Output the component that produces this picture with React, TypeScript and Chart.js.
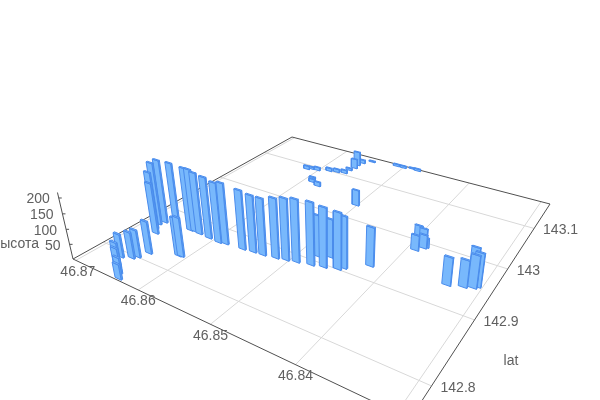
import React, { useEffect, useRef } from "react";
import { Chart, registerables } from "chart.js";
Chart.register(...registerables);

const lonValues = [46.8651,46.8643,46.8641,46.8633,46.8664,46.8652,46.8648,46.8643,46.8669,46.8678,46.8682,46.8679,46.8671,46.8611,46.8608,46.8639,46.8633,46.8624,46.8608,46.8592,46.8583,46.8559,46.8545,46.8532,46.8516,46.8504,46.8492,46.8475,46.8479,46.8461,46.8466,46.8446,46.8442,46.8419,46.8502,46.8617,46.8611,46.8602,46.8586,46.8575,46.8564,46.8563,46.856,46.8562,46.8559,46.8548,46.8511,46.85,46.8487,46.8478,46.8592,46.8587,46.8574,46.8397,46.8391,46.8391,46.8385,46.8384,46.8334,46.8318,46.8309,46.8306,46.8318];
const latValues = [142.775,142.769,142.768,142.761,142.79,142.795,142.8,142.812,142.846,142.854,142.863,142.87,142.881,142.826,142.827,142.873,142.874,142.873,142.872,142.871,142.873,142.875,142.877,142.878,142.881,142.884,142.887,142.891,142.909,142.895,142.915,142.9,142.905,142.924,143.033,143.087,143.091,143.092,143.099,143.102,143.105,143.117,143.127,143.138,143.148,143.159,143.166,143.166,143.17,143.168,143.065,143.057,143.051,143.001,143.002,142.979,142.988,142.991,142.937,142.943,142.947,142.951,142.974];
const heightValues = [83,80,53,50,78,88,92,109,174,195,214,218,202,128,131,215,214,210,208,203,206,198,190,189,198,203,206,205,138,195,128,185,170,129,57,13,8,12,12,12,12,8,37,54,13,4,8,8,4,8,8,12,16,50,43,52,46,32,91,88,106,110,83];
const lonTicks = [46.87, 46.86, 46.85, 46.84, 46.83];
const lonTickLabels = ["46.87", "46.86", "46.85", "46.84"];
const latTicks = [142.8, 142.9, 143, 143.1];
const latTickLabels = ["142.8", "142.9", "143", "143.1"];
const heightTicks = [50, 100, 150, 200];
const heightTitle = "высота";
const latTitle = "lat";

const LON_MAX = 46.8705, LON_SPAN = 0.041667, LAT_MIN = 142.759, LAT_SPAN = 0.4132, Z_TOP = 217;
const LON_MIN = LON_MAX - LON_SPAN, LAT_MAX = LAT_MIN + LAT_SPAN;
const BAR_LON = 0.00048, BAR_LAT = 0.002;
const [x0, y0, x1, y1, x2, y2, x3, y3] = [73, 259, 410, 419, 550, 204, 292, 137];
const dx1 = x1 - x2, dx2 = x3 - x2, sx = x0 - x1 + x2 - x3, dy1 = y1 - y2, dy2 = y3 - y2, sy = y0 - y1 + y2 - y3;
const det = dx1 * dy2 - dx2 * dy1;
const g = (sx * dy2 - dx2 * sy) / det, h = (dx1 * sy - sx * dy1) / det;
const a = x1 - x0 + g * x1, b = x3 - x0 + h * x3, d = y1 - y0 + g * y1, e = y3 - y0 + h * y3;
const K = -2.57e-4, VX = 336, VY = 1385;

function depth(lon: number, lat: number) {
  const s = (LON_MAX - lon) / LON_SPAN, t = (lat - LAT_MIN) / LAT_SPAN;
  return g * s + h * t + 1;
}
function project(lon: number, lat: number, z = 0) {
  const s = (LON_MAX - lon) / LON_SPAN, t = (lat - LAT_MIN) / LAT_SPAN;
  const w = depth(lon, lat) + z * K;
  return { x: (a * s + b * t + x0 + z * K * VX) / w, y: (d * s + e * t + y0 + z * K * VY) / w };
}

const lineSet = (data: { x: number; y: number }[], color: string, order: number, width = 1) => ({
  type: "scatter" as const, data, showLine: true, borderColor: color, borderWidth: width,
  pointRadius: 0, tension: 0, fill: false, order, clip: false,
});
const polySet = (data: { x: number; y: number }[], color: string, order: number) => ({
  type: "scatter" as const, data: [...data, data[0]], showLine: true, borderColor: "#4a8cec", borderWidth: 1,
  backgroundColor: color, pointRadius: 0, tension: 0, fill: "shape", order, clip: false,
});

function buildDatasets() {
  const sets: any[] = [];
  let order = 100000;
  for (const lat of latTicks) sets.push(lineSet([project(LON_MAX, lat), project(LON_MIN, lat)], "#d8d8d8", order--));
  for (const lon of lonTicks) sets.push(lineSet([project(lon, LAT_MIN), project(lon, LAT_MAX)], "#d8d8d8", order--));
  const edge = "#505050";
  sets.push(lineSet([project(LON_MAX, LAT_MIN), project(LON_MAX, LAT_MAX), project(LON_MIN, LAT_MAX), project(LON_MIN, LAT_MIN), project(LON_MAX, LAT_MIN)], edge, order--));
  sets.push(lineSet([project(LON_MAX, LAT_MIN), project(LON_MAX, LAT_MIN, Z_TOP)], edge, order--));
  for (const z of heightTicks) {
    const p = project(LON_MAX, LAT_MIN, z);
    sets.push(lineSet([p, { x: p.x + 3, y: p.y }], edge, order--));
  }
  const idx = lonValues.map((_, i) => i).sort((i, j) => depth(lonValues[j], latValues[j]) - depth(lonValues[i], latValues[i]));
  for (const i of idx) {
    const lo = lonValues[i] - BAR_LON, hi = lonValues[i] + BAR_LON, la = latValues[i], lb = la + BAR_LAT, z = heightValues[i];
    sets.push(polySet([project(lo, la), project(lo, lb), project(lo, lb, z), project(lo, la, z)], "#5aa0f4", order--));
    sets.push(polySet([project(hi, la), project(lo, la), project(lo, la, z), project(hi, la, z)], "#78b8fc", order--));
    sets.push(polySet([project(hi, la, z), project(lo, la, z), project(lo, lb, z), project(hi, lb, z)], "#82bdfd", order--));
  }
  return sets;
}

const labelPlugin = {
  id: "sceneLabels",
  afterDraw(chart: any) {
    const { ctx, scales } = chart;
    const put = (text: string, x: number, y: number, align: CanvasTextAlign) => {
      ctx.textAlign = align;
      ctx.fillText(text, scales.x.getPixelForValue(x), scales.y.getPixelForValue(y + 1.5));
    };
    ctx.save();
    ctx.font = "14px 'Liberation Sans', Arial, sans-serif";
    ctx.fillStyle = "#606060";
    ctx.textBaseline = "middle";
    lonTickLabels.forEach((label, i) => {
      const p = project(lonTicks[i], LAT_MIN);
      put(label, p.x + (i === 0 ? 2 : 0), p.y + 10, "center");
    });
    latTickLabels.forEach((label, i) => {
      const p = project(LON_MIN, latTicks[i]);
      put(label, p.x + 9, p.y + 0.5, "left");
    });
    heightTicks.forEach((z) => {
      const p = project(LON_MAX, LAT_MIN, z);
      put(String(z), p.x - 9, p.y, "right");
    });
    put(heightTitle, 39, 243, "right");
    put(latTitle, 511, 360, "center");
    ctx.restore();
  },
};

export default function App() {
  const ref = useRef<HTMLCanvasElement>(null);
  useEffect(() => {
    const chart = new Chart(ref.current!, {
      type: "scatter",
      data: { datasets: buildDatasets() },
      options: {
        animation: false,
        responsive: false,
        devicePixelRatio: 1,
        layout: { padding: 0 },
        plugins: { legend: { display: false }, tooltip: { enabled: false }, title: { display: false } },
        scales: {
          x: { type: "linear", min: 0, max: 600, display: false },
          y: { type: "linear", min: 0, max: 400, reverse: true, display: false },
        },
      },
      plugins: [labelPlugin],
    } as any);
    return () => chart.destroy();
  }, []);
  return (
    <div style={{ position: "absolute", left: 0, top: 0, width: 600, height: 400, background: "#fff" }}>
      <canvas ref={ref} width={600} height={400} style={{ display: "block" }} />
    </div>
  );
}
